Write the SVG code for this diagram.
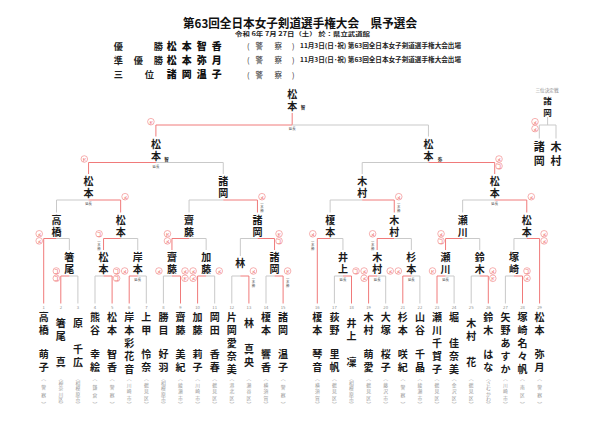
<svg xmlns="http://www.w3.org/2000/svg" width="600" height="424" viewBox="0 0 600 424">
<style>
.g{fill:none;stroke:#c9c9c9;stroke-width:1}
.r{fill:none;stroke:#f07a7a;stroke-width:1}
text{font-family:"Noto Sans CJK JP","Noto Sans",sans-serif;dominant-baseline:central}
.nm,.n8,.n11,.af,.no,.ct,.sm,.sx,.tt,.st,.lb,.bn,.pa,.th{text-anchor:middle}
.nm{font-size:10px;font-weight:700;fill:#1a1a1a}
.n8{font-size:8.5px;font-weight:700;fill:#1a1a1a}
.n11{font-size:11px;font-weight:700;fill:#1a1a1a}
.af{font-size:4.8px;fill:#9a9a9a}
.no{font-size:4.2px;fill:#8a8a8a}
.ck{fill:#fff;stroke:#f07a7a;stroke-width:0.6}
.ct{font-size:4.4px;fill:#f07a7a;font-weight:700}
.sm{font-size:3.4px;fill:#555}
.sx{font-size:4.5px;fill:#333;font-weight:700}
.tt{font-size:12px;font-weight:700;fill:#111}
.st{font-size:5.6px;font-weight:700;fill:#222}
.lb{font-size:9.2px;font-weight:700;fill:#222}
.bn{font-size:9.9px;font-weight:900;fill:#111}
.pa{font-size:7.5px;fill:#333}
.nt{font-size:6.3px;font-weight:700;fill:#222}
.th{font-size:4.6px;fill:#888}
</style>

<g id="header">
<text class="tt" x="300" y="22.6" textLength="234" lengthAdjust="spacingAndGlyphs">第63回全日本女子剣道選手権大会　県予選会</text>
<text class="st" x="302.5" y="33.8" textLength="135" lengthAdjust="spacingAndGlyphs">令和 6年 7月 27日（土） 於：県立武道館</text>
</g>

<g id="result-champion">
<text class="lb" x="118.3" y="45.5">優</text><text class="lb" x="158.3" y="45.5">勝</text>
<text class="bn" x="171.7" y="45.5">松</text><text class="bn" x="186.7" y="45.5">本</text><text class="bn" x="201.7" y="45.5">智</text><text class="bn" x="216.7" y="45.5">香</text>
<text class="pa" x="248.3" y="45.5">(</text><text class="pa" x="259.3" y="45.5">警</text><text class="pa" x="278.3" y="45.5">察</text><text class="pa" x="293.3" y="45.5">)</text>
<text class="nt" x="300" y="45.5" text-anchor="start" textLength="161" lengthAdjust="spacingAndGlyphs">11月3日(日･祝) 第63回全日本女子剣道選手権大会出場</text>
</g>
<g id="result-second">
<text class="lb" x="118.3" y="59.9">準</text><text class="lb" x="138.3" y="59.9">優</text><text class="lb" x="158.3" y="59.9">勝</text>
<text class="bn" x="171.7" y="59.9">松</text><text class="bn" x="186.7" y="59.9">本</text><text class="bn" x="201.7" y="59.9">弥</text><text class="bn" x="216.7" y="59.9">月</text>
<text class="pa" x="248.3" y="59.9">(</text><text class="pa" x="259.3" y="59.9">警</text><text class="pa" x="278.3" y="59.9">察</text><text class="pa" x="293.3" y="59.9">)</text>
<text class="nt" x="300" y="59.9" text-anchor="start" textLength="161" lengthAdjust="spacingAndGlyphs">11月3日(日･祝) 第63回全日本女子剣道選手権大会出場</text>
</g>
<g id="result-third">
<text class="lb" x="118.3" y="74.3">三</text><text class="lb" x="149.3" y="74.3">位</text>
<text class="bn" x="171.7" y="74.3">諸</text><text class="bn" x="186.7" y="74.3">岡</text><text class="bn" x="201.7" y="74.3">温</text><text class="bn" x="216.7" y="74.3">子</text>
<text class="pa" x="248.3" y="74.3">(</text><text class="pa" x="259.3" y="74.3">警</text><text class="pa" x="278.3" y="74.3">察</text><text class="pa" x="293.3" y="74.3">)</text>
</g>

<g id="connectors">
<path class="g" d="M69.35 276H77.9V303.5M95 303.5V276H103.55M137.75 276H146.3V303.5M163.4 303.5V276H171.95M206.15 276H214.7V303.5M231.8 303.5V276H240.35M266 303.5V276H274.55"/>
<path class="r" d="M60.8 303.5V276H69.35M103.55 276H112.1V303.5M129.2 303.5V276H137.75M171.95 276H180.5V303.5M197.6 303.5V276H206.15M240.35 276H248.9V303.5M274.55 276H283.1V303.5"/>
<path class="g" d="M56.5 238.5H69.35V250M120.65 238.5H137.75V250M189.05 238.5H206.15V250M240.35 256V238.5H257.45"/>
<path class="r" d="M43.7 303.5V238.5H56.5M103.55 250V238.5H120.65M171.95 250V238.5H189.05M257.45 238.5H274.55V250"/>
<path class="g" d="M56.5 212.5V200H88.575M189.05 212.5V200H223.25"/>
<path class="r" d="M88.575 200H120.65V212.5M223.25 200H257.45V212.5"/>
<path class="g" d="M155.9 162.5H223.25V174"/>
<path class="r" d="M88.575 174V162.5H155.9"/>
<path class="g" d="M334.4 303.5V276H342.95M377.15 276H385.7V303.5M411.35 276H419.9V303.5M445.55 276H454.1V303.5M471.2 303.5V276H479.75M505.4 303.5V276H513.95"/>
<path class="r" d="M342.95 276H351.5V303.5M368.6 303.5V276H377.15M402.8 303.5V276H411.35M437 303.5V276H445.55M479.75 276H488.3V303.5M513.95 276H522.5V303.5"/>
<path class="g" d="M330.125 238.5H342.95V250M394.25 238.5H411.35V250M462.65 238.5H479.75V250M513.95 250V238.5H526.775"/>
<path class="r" d="M317.3 303.5V238.5H330.125M377.15 250V238.5H394.25M445.55 250V238.5H462.65M526.775 238.5H539.6V303.5"/>
<path class="g" d="M330.125 212.5V200H362.19M462.65 212.5V200H494.71"/>
<path class="r" d="M362.19 200H394.25V212.5M494.71 200H526.775V212.5"/>
<path class="g" d="M362.19 174V162.5H428.45"/>
<path class="r" d="M428.45 162.5H494.71V174"/>
<path class="r" d="M155.9 136.5V125H292.18V113"/>
<path class="g" d="M292.18 125H428.45V136.5"/>
<path class="g" d="M547.6 117V125M539.3 138.5V125H556V138.5"/>
</g>

<g id="champion">
<text class="nm" x="292.18 292.18" y="93.3 105.7">松本</text>
<text class="sx" x="303" y="107">智</text>
<text class="sm" x="292.18" y="128.5">延長</text>
<circle class="ck" cx="150.9" cy="121.7" r="3.3"/><text class="ct" x="150.9" y="121.7">ド</text>
</g>

<g id="sf-left">
<text class="nm" x="155.9 155.9" y="143 155.2">松本</text>
<text class="sx" x="166.5" y="159">智</text>
<text class="sm" x="155.9" y="166">延長</text>
<circle class="ck" cx="84.3" cy="159" r="3.3"/><text class="ct" x="84.3" y="159">ド</text>
</g>
<g id="sf-right">
<text class="nm" x="428.45 428.45" y="143 155.2">松本</text>
<text class="sx" x="440" y="159">弥</text>
<circle class="ck" cx="499" cy="159" r="3.3"/><text class="ct" x="499" y="159">メ</text>
<circle class="ck" cx="499" cy="166" r="3.3"/><text class="ct" x="499" y="166">コ</text>
</g>

<g id="qf-1">
<text class="nm" x="88.575 88.575" y="180.5 192.7">松本</text>
<text class="sm" x="88.575" y="203.8">延長</text>
<circle class="ck" cx="125.1" cy="196.7" r="3.3"/><text class="ct" x="125.1" y="196.7">メ</text>
</g>
<g id="qf-2">
<text class="nm" x="223.25 223.25" y="180.5 192.7">諸岡</text>
<circle class="ck" cx="261.95" cy="196.7" r="3.3"/><text class="ct" x="261.95" y="196.7">メ</text>
<text class="sm" x="261.95 261.95 261.95" y="203.2 206.7 210.2">一本勝</text>
</g>
<g id="qf-3">
<text class="nm" x="362.19 362.19" y="180.5 192.7">木村</text>
<circle class="ck" cx="398.75" cy="196.7" r="3.3"/><text class="ct" x="398.75" y="196.7">メ</text>
<text class="sm" x="398.75 398.75 398.75" y="203.2 206.7 210.2">一本勝</text>
</g>
<g id="qf-4">
<text class="nm" x="494.71 494.71" y="180.5 192.7">松本</text>
<text class="sm" x="494.71" y="203.8">延長</text>
<circle class="ck" cx="531.3" cy="196.7" r="3.3"/><text class="ct" x="531.3" y="196.7">メ</text>
</g>

<g id="r2-1">
<text class="nm" x="56.5 56.5" y="219 231.2">高橋</text>
<circle class="ck" cx="39.2" cy="233.8" r="3.3"/><text class="ct" x="39.2" y="233.8">メ</text>
<circle class="ck" cx="39.2" cy="240.9" r="3.3"/><text class="ct" x="39.2" y="240.9">メ</text>
</g>
<g id="r2-2">
<text class="nm" x="120.65 120.65" y="219 231.2">松本</text>
<circle class="ck" cx="99.05" cy="233.8" r="3.3"/><text class="ct" x="99.05" y="233.8">コ</text>
<text class="sm" x="99.05 99.05 99.05" y="241 244.5 248">一本勝</text>
</g>
<g id="r2-3">
<text class="nm" x="189.05 189.05" y="219 231.2">齋藤</text>
<circle class="ck" cx="167.45" cy="233.8" r="3.3"/><text class="ct" x="167.45" y="233.8">ド</text>
<circle class="ck" cx="167.45" cy="240.9" r="3.3"/><text class="ct" x="167.45" y="240.9">メ</text>
</g>
<g id="r2-4">
<text class="nm" x="257.45 257.45" y="219 231.2">諸岡</text>
<circle class="ck" cx="279.05" cy="233.8" r="3.3"/><text class="ct" x="279.05" y="233.8">ド</text>
<circle class="ck" cx="279.05" cy="240.9" r="3.3"/><text class="ct" x="279.05" y="240.9">コ</text>
</g>
<g id="r2-5">
<text class="nm" x="330.125 330.125" y="219 231.2">榎本</text>
<circle class="ck" cx="312.8" cy="233.8" r="3.3"/><text class="ct" x="312.8" y="233.8">メ</text>
<text class="sm" x="312.8 312.8 312.8" y="241 244.5 248">一本勝</text>
</g>
<g id="r2-6">
<text class="nm" x="394.25 394.25" y="219 231.2">木村</text>
<circle class="ck" cx="372.65" cy="233.8" r="3.3"/><text class="ct" x="372.65" y="233.8">メ</text>
<text class="sm" x="372.65 372.65 372.65" y="241 244.5 248">一本勝</text>
</g>
<g id="r2-7">
<text class="nm" x="462.65 462.65" y="219 231.2">瀬川</text>
<circle class="ck" cx="441.05" cy="233.8" r="3.3"/><text class="ct" x="441.05" y="233.8">メ</text>
<circle class="ck" cx="441.05" cy="240.9" r="3.3"/><text class="ct" x="441.05" y="240.9">コ</text>
</g>
<g id="r2-8">
<text class="nm" x="526.775 526.775" y="219 231.2">松本</text>
<circle class="ck" cx="544.1" cy="233.8" r="3.3"/><text class="ct" x="544.1" y="233.8">メ</text>
<circle class="ck" cx="544.1" cy="240.9" r="3.3"/><text class="ct" x="544.1" y="240.9">メ</text>
</g>

<g id="r1-1">
<text class="nm" x="69.35 69.35" y="256.5 268.7">箸尾</text>
<circle class="ck" cx="56.3" cy="271" r="3.3"/><text class="ct" x="56.3" y="271">コ</text>
<circle class="ck" cx="56.3" cy="278.3" r="3.3"/><text class="ct" x="56.3" y="278.3">コ</text>
</g>
<g id="r1-2">
<text class="nm" x="103.55 103.55" y="256.5 268.7">松本</text>
<circle class="ck" cx="116.6" cy="271" r="3.3"/><text class="ct" x="116.6" y="271">コ</text>
<circle class="ck" cx="116.6" cy="278.3" r="3.3"/><text class="ct" x="116.6" y="278.3">コ</text>
</g>
<g id="r1-3">
<text class="nm" x="137.75 137.75" y="256.5 268.7">岸本</text>
<circle class="ck" cx="124.7" cy="271" r="3.3"/><text class="ct" x="124.7" y="271">メ</text>
<text class="sm" x="137.75" y="279.5">延長</text>
</g>
<g id="r1-4">
<text class="nm" x="171.95 171.95" y="256.5 268.7">齋藤</text>
<circle class="ck" cx="158.9" cy="271" r="3.3"/><text class="ct" x="158.9" y="271">メ</text>
<circle class="ck" cx="185" cy="271" r="3.3"/><text class="ct" x="185" y="271">メ</text>
<circle class="ck" cx="185" cy="278.3" r="3.3"/><text class="ct" x="185" y="278.3">ド</text>
</g>
<g id="r1-5">
<text class="nm" x="206.15 206.15" y="256.5 268.7">加藤</text>
<circle class="ck" cx="193.1" cy="271" r="3.3"/><text class="ct" x="193.1" y="271">メ</text>
<circle class="ck" cx="193.1" cy="278.3" r="3.3"/><text class="ct" x="193.1" y="278.3">メ</text>
<circle class="ck" cx="219.2" cy="271" r="3.3"/><text class="ct" x="219.2" y="271">メ</text>
</g>
<g id="r1-6">
<text class="nm" x="240.35" y="262.6">林</text>
<circle class="ck" cx="253.4" cy="271" r="3.3"/><text class="ct" x="253.4" y="271">メ</text>
<text class="sm" x="253.4 253.4 253.4" y="278 281.5 285">一本勝</text>
</g>
<g id="r1-7">
<text class="nm" x="274.55 274.55" y="256.5 268.7">諸岡</text>
<circle class="ck" cx="287.6" cy="271" r="3.3"/><text class="ct" x="287.6" y="271">ド</text>
<text class="sm" x="287.6 287.6 287.6" y="278 281.5 285">一本勝</text>
</g>
<g id="r1-8">
<text class="nm" x="342.95 342.95" y="256.5 268.7">井上</text>
<circle class="ck" cx="356" cy="271" r="3.3"/><text class="ct" x="356" y="271">コ</text>
<text class="sm" x="342.95" y="279.5">延長</text>
</g>
<g id="r1-9">
<text class="nm" x="377.15 377.15" y="256.5 268.7">木村</text>
<circle class="ck" cx="364.1" cy="271" r="3.3"/><text class="ct" x="364.1" y="271">メ</text>
<circle class="ck" cx="364.1" cy="278.3" r="3.3"/><text class="ct" x="364.1" y="278.3">メ</text>
<text class="sm" x="377.15" y="279.5">延長</text>
</g>
<g id="r1-10">
<text class="nm" x="411.35 411.35" y="256.5 268.7">杉本</text>
<circle class="ck" cx="390.2" cy="271" r="3.3"/><text class="ct" x="390.2" y="271">メ</text>
<circle class="ck" cx="398.3" cy="271" r="3.3"/><text class="ct" x="398.3" y="271">メ</text>
<text class="sm" x="411.35" y="279.5">延長</text>
</g>
<g id="r1-11">
<text class="nm" x="445.55 445.55" y="256.5 268.7">瀬川</text>
<circle class="ck" cx="432.5" cy="271" r="3.3"/><text class="ct" x="432.5" y="271">ド</text>
<text class="sm" x="445.55" y="279.5">延長</text>
</g>
<g id="r1-12">
<text class="nm" x="479.75 479.75" y="256.5 268.7">鈴木</text>
<circle class="ck" cx="492.8" cy="271" r="3.3"/><text class="ct" x="492.8" y="271">メ</text>
<circle class="ck" cx="492.8" cy="278.3" r="3.3"/><text class="ct" x="492.8" y="278.3">ド</text>
</g>
<g id="r1-13">
<text class="nm" x="513.95 513.95" y="256.5 268.7">塚崎</text>
<circle class="ck" cx="527" cy="271" r="3.3"/><text class="ct" x="527" y="271">コ</text>
<circle class="ck" cx="527" cy="278.3" r="3.3"/><text class="ct" x="527" y="278.3">メ</text>
</g>

<g id="third-place">
<text class="th" x="547" y="90">三位決定戦</text>
<text class="n8" x="547.6 547.6" y="100 112.3">諸岡</text>
<circle class="ck" cx="535" cy="121.7" r="3.3"/><text class="ct" x="535" y="121.7">メ</text>
<circle class="ck" cx="535" cy="128.6" r="3.3"/><text class="ct" x="535" y="128.6">メ</text>
<text class="n11" x="539.3 539.3" y="146 160.3">諸岡</text>
<text class="n11" x="556 556" y="146 160.3">木村</text>
</g>

<g id="p1"><text class="no" x="43.7" y="306.8">1</text><text class="nm" x="43.7 43.7 43.7 43.7" y="316 329 353.5 366.7">高橋萌子</text><text class="af" x="43.7 43.7 43.7 43.7" y="377.5 386.2 394.8 403.5">︵警察︶</text></g>
<g id="p2"><text class="no" x="60.8" y="306.8">2</text><text class="nm" x="60.8 60.8 60.8" y="322.7 335 361.7">箸尾真</text><text class="af" x="60.8 60.8 60.8 60.8 60.8 60.8" y="377.5 382.7 387.9 393.1 398.3 403.5">︵神奈川区︶</text></g>
<g id="p3"><text class="no" x="77.9" y="306.8">3</text><text class="nm" x="77.9 77.9 77.9" y="322.7 348.5 361.7">原千広</text><text class="af" x="77.9 77.9 77.9 77.9 77.9 77.9" y="377.5 382.7 387.9 393.1 398.3 403.5">︵相模原市︶</text></g>
<g id="p4"><text class="no" x="95" y="306.8">4</text><text class="nm" x="95 95 95 95" y="316 329 353.5 366.7">熊谷幸絵</text><text class="af" x="95 95 95 95" y="377.5 386.2 394.8 403.5">︵鎌倉︶</text></g>
<g id="p5"><text class="no" x="112.1" y="306.8">5</text><text class="nm" x="112.1 112.1 112.1 112.1" y="316 329 353.5 366.7">松本智香</text><text class="af" x="112.1 112.1 112.1 112.1" y="377.5 386.2 394.8 403.5">︵警察︶</text></g>
<g id="p6"><text class="no" x="129.2" y="306.8">6</text><text class="nm" x="129.2 129.2 129.2 129.2 129.2" y="316 329 342 355 368">岸本彩花音</text><text class="af" x="129.2 129.2 129.2 129.2 129.2" y="377.5 384 390.5 397 403.5">︵川崎市︶</text></g>
<g id="p7"><text class="no" x="146.3" y="306.8">7</text><text class="nm" x="146.3 146.3 146.3 146.3" y="316 329 353.5 366.7">上甲怜奈</text><text class="af" x="146.3 146.3 146.3 146.3 146.3" y="377.5 384 390.5 397 403.5">︵鶴見区︶</text></g>
<g id="p8"><text class="no" x="163.4" y="306.8">8</text><text class="nm" x="163.4 163.4 163.4 163.4" y="316 329 353.5 366.7">勝目好羽</text><text class="af" x="163.4 163.4 163.4 163.4 163.4 163.4" y="377.5 382.7 387.9 393.1 398.3 403.5">︵相模原市︶</text></g>
<g id="p9"><text class="no" x="180.5" y="306.8">9</text><text class="nm" x="180.5 180.5 180.5 180.5" y="316 329 353.5 366.7">齋藤美紀</text><text class="af" x="180.5 180.5 180.5 180.5 180.5" y="377.5 384 390.5 397 403.5">︵綾瀬市︶</text></g>
<g id="p10"><text class="no" x="197.6" y="306.8">10</text><text class="nm" x="197.6 197.6 197.6 197.6" y="316 329 353.5 366.7">加藤莉子</text><text class="af" x="197.6 197.6 197.6 197.6 197.6" y="377.5 384 390.5 397 403.5">︵川崎市︶</text></g>
<g id="p11"><text class="no" x="214.7" y="306.8">11</text><text class="nm" x="214.7 214.7 214.7 214.7" y="316 329 353.5 366.7">岡田香春</text><text class="af" x="214.7 214.7 214.7 214.7 214.7" y="377.5 384 390.5 397 403.5">︵鶴見区︶</text></g>
<g id="p12"><text class="no" x="231.8" y="306.8">12</text><text class="nm" x="231.8 231.8 231.8 231.8 231.8" y="316 329 342 355 368">片岡愛奈美</text><text class="af" x="231.8 231.8 231.8 231.8 231.8" y="377.5 384 390.5 397 403.5">︵港北区︶</text></g>
<g id="p13"><text class="no" x="248.9" y="306.8">13</text><text class="nm" x="248.9 248.9 248.9" y="322.7 348.5 361.7">林真央</text><text class="af" x="248.9 248.9 248.9 248.9 248.9" y="377.5 384 390.5 397 403.5">︵瀬谷区︶</text></g>
<g id="p14"><text class="no" x="266" y="306.8">14</text><text class="nm" x="266 266 266 266" y="316 329 353.5 366.7">榎本響香</text><text class="af" x="266 266 266 266 266" y="377.5 384 390.5 397 403.5">︵横須賀︶</text></g>
<g id="p15"><text class="no" x="283.1" y="306.8">15</text><text class="nm" x="283.1 283.1 283.1 283.1" y="316 329 353.5 366.7">諸岡温子</text><text class="af" x="283.1 283.1 283.1 283.1" y="377.5 386.2 394.8 403.5">︵警察︶</text></g>
<g id="p16"><text class="no" x="317.3" y="306.8">16</text><text class="nm" x="317.3 317.3 317.3 317.3" y="316 329 353.5 366.7">榎本琴音</text><text class="af" x="317.3 317.3 317.3 317.3 317.3" y="377.5 384 390.5 397 403.5">︵横須賀︶</text></g>
<g id="p17"><text class="no" x="334.4" y="306.8">17</text><text class="nm" x="334.4 334.4 334.4 334.4" y="316 329 353.5 366.7">荻野里帆</text><text class="af" x="334.4 334.4 334.4 334.4 334.4" y="377.5 384 390.5 397 403.5">︵鶴見区︶</text></g>
<g id="p18"><text class="no" x="351.5" y="306.8">18</text><text class="nm" x="351.5 351.5 351.5" y="322.7 335 361.7">井上凜</text><text class="af" x="351.5 351.5 351.5 351.5 351.5 351.5" y="377.5 382.7 387.9 393.1 398.3 403.5">︵相模原市︶</text></g>
<g id="p19"><text class="no" x="368.6" y="306.8">19</text><text class="nm" x="368.6 368.6 368.6 368.6" y="316 329 353.5 366.7">木村萌愛</text><text class="af" x="368.6 368.6 368.6 368.6 368.6" y="377.5 384 390.5 397 403.5">︵鶴見区︶</text></g>
<g id="p20"><text class="no" x="385.7" y="306.8">20</text><text class="nm" x="385.7 385.7 385.7 385.7" y="316 329 353.5 366.7">大塚桜子</text><text class="af" x="385.7 385.7 385.7 385.7 385.7" y="377.5 384 390.5 397 403.5">︵藤沢市︶</text></g>
<g id="p21"><text class="no" x="402.8" y="306.8">21</text><text class="nm" x="402.8 402.8 402.8 402.8" y="316 329 353.5 366.7">杉本咲紀</text><text class="af" x="402.8 402.8 402.8 402.8" y="377.5 386.2 394.8 403.5">︵警察︶</text></g>
<g id="p22"><text class="no" x="419.9" y="306.8">22</text><text class="nm" x="419.9 419.9 419.9 419.9" y="316 329 353.5 366.7">山谷千晶</text><text class="af" x="419.9 419.9 419.9 419.9 419.9" y="377.5 384 390.5 397 403.5">︵綾瀬市︶</text></g>
<g id="p23"><text class="no" x="437" y="306.8">23</text><text class="nm" x="437 437 437 437 437" y="316 329 342 355 368">瀬川千賀子</text><text class="af" x="437 437 437 437 437" y="377.5 384 390.5 397 403.5">︵鶴見区︶</text></g>
<g id="p24"><text class="no" x="454.1" y="306.8">24</text><text class="nm" x="454.1 454.1 454.1 454.1" y="316 342 355 368">堀佳奈美</text><text class="af" x="454.1 454.1 454.1 454.1 454.1" y="377.5 384 390.5 397 403.5">︵金沢区︶</text></g>
<g id="p25"><text class="no" x="471.2" y="306.8">25</text><text class="nm" x="471.2 471.2 471.2" y="322.7 335 361.7">木村花</text><text class="af" x="471.2 471.2 471.2 471.2 471.2" y="377.5 384 390.5 397 403.5">︵鶴見区︶</text></g>
<g id="p26"><text class="no" x="488.3" y="306.8">26</text><text class="nm" x="488.3 488.3 488.3 488.3" y="316 329 353.5 366.7">鈴木はな</text><text class="af" x="488.3 488.3 488.3 488.3 488.3 488.3" y="377.5 382.7 387.9 393.1 398.3 403.5">︵さむかわ︶</text></g>
<g id="p27"><text class="no" x="505.4" y="306.8">27</text><text class="nm" x="505.4 505.4 505.4 505.4 505.4" y="316 329 342 355 368">矢野あすか</text><text class="af" x="505.4 505.4 505.4 505.4 505.4" y="377.5 384 390.5 397 403.5">︵川崎市︶</text></g>
<g id="p28"><text class="no" x="522.5" y="306.8">28</text><text class="nm" x="522.5 522.5 522.5 522.5 522.5" y="316 329 342 355 368">塚崎名々帆</text><text class="af" x="522.5 522.5 522.5 522.5" y="377.5 386.2 394.8 403.5">︵南区︶</text></g>
<g id="p29"><text class="no" x="539.6" y="306.8">29</text><text class="nm" x="539.6 539.6 539.6 539.6" y="316 329 353.5 366.7">松本弥月</text><text class="af" x="539.6 539.6 539.6 539.6" y="377.5 386.2 394.8 403.5">︵警察︶</text></g>
</svg>
